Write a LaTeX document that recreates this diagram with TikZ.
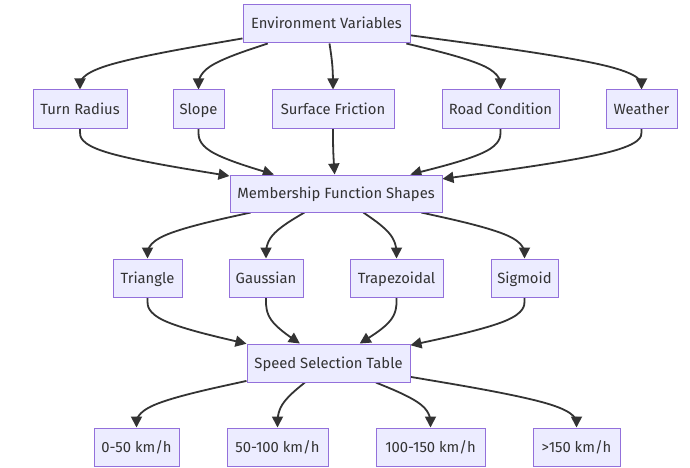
\documentclass[tikz,border=0pt]{standalone}
\usepackage{fontspec}
\setmainfont{Fira Sans}
\usetikzlibrary{arrows.meta,calc}
\pgfdeclarelayer{bg}
\pgfdeclarelayer{paper}
\pgfsetlayers{paper,bg,main}
\definecolor{boxfill}{HTML}{ECECFF}
\definecolor{boxline}{HTML}{9370DB}
\definecolor{ink}{HTML}{333333}
\newcommand\mmedge[3]{%
  \path (#1) -- (#2) coordinate[pos=0] (mmA);
  \path (#2) -- (#3) coordinate[pos=1] (mmC);
  \path (#2) coordinate (mmB);
  \coordinate (mmH) at ($(mmA)!0.5!(mmC)$);
  \draw[edge] (mmA) -- ($(mmA)!1/6!(mmB)$)
    .. controls ($(mmA)!1/3!(mmB)$) and ($(mmA)!2/3!(mmB)$) .. ($(mmB)!1/3!(mmH)$)
    .. controls ($(mmB)!1/3!(mmC)$) and ($(mmB)!2/3!(mmC)$) .. ($(mmB)!5/6!(mmC)$)
    -- (mmC);
}
\tikzset{
  box/.style={draw=boxline, fill=boxfill, line width=1pt, text=ink,
    font=\fontsize{14.8}{17}\selectfont, inner sep=0pt, minimum height=38pt,
    text height=12pt, text depth=2pt},
  edge/.style={draw=ink, line width=1.8pt, -{Triangle[length=11pt,width=11pt]}},
}
\begin{document}
\begin{tikzpicture}[x=1pt,y=-1pt]
\begin{pgfonlayer}{paper}
\fill[white] (0,0) rectangle (690,468);
\end{pgfonlayer}
\useasboundingbox (0,0) rectangle (690,468);
% row 1
\node[box, minimum width=167pt] (env) at (326.5,24) {Environment Variables};
% row 2
\node[box, minimum width=94pt]  (tr) at (80,109) {Turn Radius};
\node[box, minimum width=51pt]  (sl) at (198.5,109) {Slope};
\node[box, minimum width=122pt] (sf) at (333,109) {Surface Friction};
\node[box, minimum width=117pt] (rc) at (500.5,109) {Road Condition};
\node[box, minimum width=71pt]  (we) at (641.5,109) {Weather};
% row 3
\node[box, minimum width=212pt, minimum height=37pt] (mfs) at (336,193.5) {Membership Function Shapes};
% row 4
\node[box, minimum width=69pt] (tri) at (147.5,278) {Triangle};
\node[box, minimum width=74pt] (gau) at (266,278) {Gaussian};
\node[box, minimum width=93pt] (tra) at (396.5,278) {Trapezoidal};
\node[box, minimum width=67pt] (sig) at (524.5,278) {Sigmoid};
% row 5
\node[box, minimum width=163pt] (sst) at (328.5,363) {Speed Selection Table};
% row 6
\node[box, minimum width=85pt]  (s1) at (136.5,447) {0-50 km/h};
\node[box, minimum width=101pt] (s2) at (277.5,447) {50-100 km/h};
\node[box, minimum width=109pt] (s3) at (430.5,447) {100-150 km/h};
\node[box, minimum width=87pt]  (s4) at (576.5,447) {>150 km/h};
% mid lines between ranks
\coordinate (m1) at (0,66.5);
\coordinate (m2) at (0,151.5);
\coordinate (m3) at (0,235.5);
\coordinate (m4) at (0,320.5);
\coordinate (m5) at (0,405);
\begin{pgfonlayer}{bg}
\mmedge{env}{tr.center |- m1}{tr}
\mmedge{env}{sl.center |- m1}{sl}
\mmedge{env}{sf.center |- m1}{sf}
\mmedge{env}{rc.center |- m1}{rc}
\mmedge{env}{we.center |- m1}{we}
\mmedge{tr}{tr.center |- m2}{mfs}
\mmedge{sl}{sl.center |- m2}{mfs}
\mmedge{sf}{sf.center |- m2}{mfs}
\mmedge{rc}{rc.center |- m2}{mfs}
\mmedge{we}{we.center |- m2}{mfs}
\mmedge{mfs}{tri.center |- m3}{tri}
\mmedge{mfs}{gau.center |- m3}{gau}
\mmedge{mfs}{tra.center |- m3}{tra}
\mmedge{mfs}{sig.center |- m3}{sig}
\mmedge{tri}{tri.center |- m4}{sst}
\mmedge{gau}{gau.center |- m4}{sst}
\mmedge{tra}{tra.center |- m4}{sst}
\mmedge{sig}{sig.center |- m4}{sst}
\mmedge{sst}{s1.center |- m5}{s1}
\mmedge{sst}{s2.center |- m5}{s2}
\mmedge{sst}{s3.center |- m5}{s3}
\mmedge{sst}{s4.center |- m5}{s4}
\end{pgfonlayer}
\end{tikzpicture}
\end{document}
